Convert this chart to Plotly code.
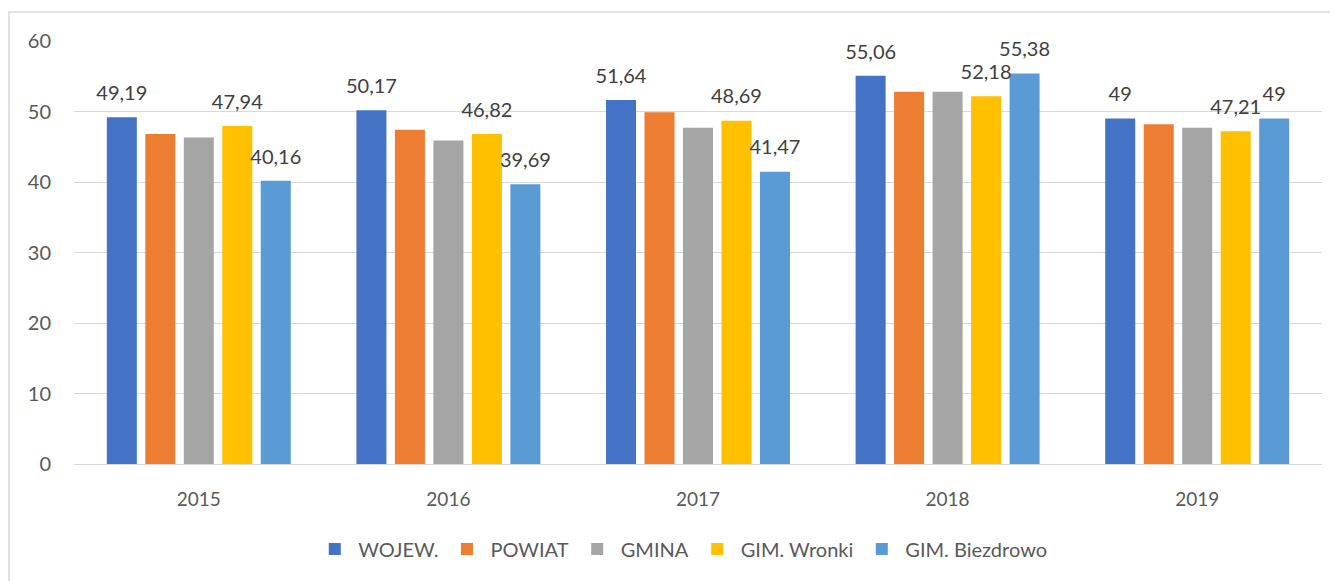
import plotly.graph_objects as go

years = ["2015", "2016", "2017", "2018", "2019"]
wojew = [49.19, 50.17, 51.64, 55.06, 49.0]
powiat = [46.8, 47.4, 49.9, 52.8, 48.2]
gmina = [46.3, 45.9, 47.7, 52.8, 47.7]
wronki = [47.94, 46.82, 48.69, 52.18, 47.21]
biezdrowo = [40.16, 39.69, 41.47, 55.38, 49.0]

series_names = ["WOJEW.", "POWIAT", "GMINA", "GIM. Wronki", "GIM. Biezdrowo"]
colors = ["#4472C4", "#ED7D31", "#A5A5A5", "#FFC000", "#5B9BD5"]
labelled = [True, False, False, True, True]

FONT = "Lato, Open Sans, sans-serif"


def fmt(v):
    s = f"{v:.2f}".rstrip("0").rstrip(".")
    return s.replace(".", ",")


fig = go.Figure()
all_vals = [wojew, powiat, gmina, wronki, biezdrowo]
for i, (name, vals, col) in enumerate(zip(series_names, all_vals, colors)):
    fig.add_trace(go.Bar(
        x=years, y=vals, name=name, offsetgroup=str(i),
        marker=dict(color=col, line=dict(width=0)),
        hoverinfo="x+y+name",
    ))
for i, (vals, lab) in enumerate(zip(all_vals, labelled)):
    fig.add_trace(go.Scatter(
        x=years, y=vals, offsetgroup=str(i), mode="markers+text",
        text=[fmt(v) for v in vals] if lab else [""] * len(vals),
        textposition="top center",
        marker=dict(size=18, color="rgba(0,0,0,0)"),
        textfont=dict(family=FONT, size=20, color="#404040"),
        showlegend=False, cliponaxis=False, hoverinfo="skip",
    ))

fig.update_layout(
    width=1330, height=573,
    barmode="group", bargap=0.229, bargroupgap=0.22,
    scattermode="group", scattergap=0.229,
    plot_bgcolor="white", paper_bgcolor="white",
    margin=dict(l=66, r=16, t=33, b=117, autoexpand=False),
    font=dict(family=FONT, color="#595959", size=18),
    xaxis=dict(showgrid=False, showline=False, ticks="", ticklabelstandoff=22,
               tickfont=dict(size=19, color="#595959")),
    yaxis=dict(range=[0, 60], dtick=10, showgrid=True, gridcolor="#D9D9D9", gridwidth=1,
               zeroline=True, zerolinecolor="#D9D9D9", zerolinewidth=1,
               ticks="", tickfont=dict(size=20, color="#595959"), ticklabelstandoff=22),
    showlegend=True,
    legend=dict(orientation="h", x=0.487, xanchor="center", y=-0.201, yanchor="middle",
                font=dict(size=20, color="#595959"), itemwidth=37, traceorder="normal"),
    shapes=[dict(type="rect", xref="paper", yref="paper", x0=-0.0521, x1=1.2, y0=-0.6, y1=1.0686,
                 line=dict(color="#D9D9D9", width=1.5), fillcolor="rgba(0,0,0,0)", layer="below")],
)

fig.write_html("out.html")
